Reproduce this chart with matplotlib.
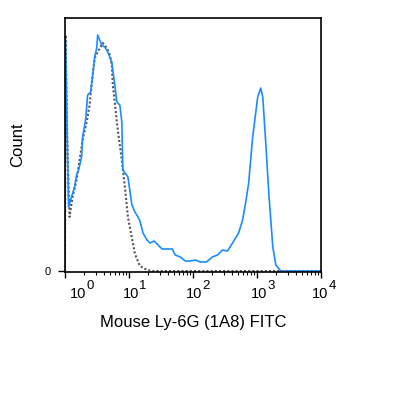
import numpy as np
import matplotlib
matplotlib.use('Agg')
import matplotlib.pyplot as plt
import matplotlib.transforms as mtransforms
import matplotlib.ticker as ticker

plt.rcParams['font.family'] = ['Liberation Sans', 'DejaVu Sans']

# Ly-6G (1A8) FITC stained sample, log10 intensity vs count
stain_log = [0.0, 0.008, 0.039, 0.055, 0.102, 0.149, 0.181, 0.212, 0.259, 0.275, 0.322,
             0.354, 0.401, 0.432, 0.464, 0.495, 0.511, 0.542, 0.574, 0.621, 0.668,
             0.731, 0.778, 0.810, 0.857, 0.888, 0.904, 0.983, 1.046, 1.093, 1.140,
             1.171, 1.219, 1.281, 1.329, 1.392, 1.454, 1.517, 1.596, 1.675, 1.722,
             1.800, 1.879, 1.958, 2.036, 2.115, 2.209, 2.303, 2.382, 2.461, 2.539,
             2.618, 2.712, 2.775, 2.822, 2.870, 2.901, 2.932, 2.980, 3.011, 3.058,
             3.090, 3.137, 3.184, 3.247, 3.294, 3.373, 4.0]
stain_count = [0, 231, 121, 64, 74, 84, 96, 101, 114, 134, 151,
               176, 179, 196, 214, 223, 236, 231, 226, 224, 219,
               209, 186, 169, 166, 149, 101, 94, 66, 59, 54,
               50, 38, 31, 28, 30, 26, 22, 22, 22, 16,
               14, 10, 10, 11, 9, 9, 14, 16, 21, 20,
               28, 38, 51, 68, 88, 111, 134, 158, 174, 183,
               174, 128, 78, 24, 6, 0, 0]

# isotype / unstained control
ctrl_log = [0.0, 0.008, 0.039, 0.071, 0.118, 0.181, 0.228, 0.275, 0.338, 0.385,
            0.432, 0.464, 0.511, 0.574, 0.590, 0.653, 0.700, 0.731, 0.747, 0.778,
            0.810, 0.825, 0.888, 0.936, 0.983, 1.046, 1.093, 1.171, 1.281, 1.376, 4.0]
ctrl_count = [0, 236, 121, 54, 74, 91, 111, 131, 149, 166,
              196, 213, 219, 226, 228, 223, 216, 206, 186, 169,
              149, 141, 111, 84, 54, 33, 17, 5, 1, 0, 0]

decades = [0, 1, 2, 3, 4]
label_shift = [13, 2, 1.5, 2, -0.5]   # px, horizontal nudge of each decade label

fig = plt.figure(figsize=(4.15, 3.95), dpi=100)
ax = fig.add_axes([65/415, 1-272/395, 256/415, 254/395])

ax.plot(10**np.array(ctrl_log), ctrl_count, color='#555555', lw=1.5,
        linestyle=(0, (1, 1)))
ax.plot(10**np.array(stain_log), stain_count, color='#1a8cff', lw=1.2)

ax.set_xscale('log')
ax.set_xlim(1, 1e4)
ax.set_ylim(-1, 253)

for s in ax.spines.values():
    s.set_linewidth(1.2)
    s.set_color('black')

ax.xaxis.set_major_locator(ticker.FixedLocator([10**d for d in decades]))
ax.xaxis.set_minor_locator(ticker.LogLocator(base=10, subs=np.arange(2, 10)))
ax.xaxis.set_major_formatter(ticker.NullFormatter())
ax.xaxis.set_minor_formatter(ticker.NullFormatter())
ax.tick_params(axis='x', which='major', direction='out', length=4.5, width=1)
ax.tick_params(axis='x', which='minor', direction='out', length=2.5, width=0.8)

ax.set_yticks([0])
ax.set_yticklabels(['0'], fontsize=8)
ax.tick_params(axis='y', direction='out', length=5, width=1, pad=5)

trans = ax.get_xaxis_transform()
for d, dx in zip(decades, label_shift):
    off = mtransforms.ScaledTranslation(dx/100, -26/100, fig.dpi_scale_trans)
    ax.text(10**d, 0, '10', transform=trans + off, ha='center', va='baseline',
            fontsize=10.5, clip_on=False)
    off2 = mtransforms.ScaledTranslation((dx+8)/100, -17/100, fig.dpi_scale_trans)
    ax.text(10**d, 0, str(d), transform=trans + off2, ha='left', va='baseline',
            fontsize=9.5, clip_on=False)

fig.text(193/415, 1-323/395, 'Mouse Ly-6G (1A8) FITC', ha='center', va='center',
         fontsize=12)
fig.text(18/415, 1-145/395, 'Count', ha='center', va='center', rotation=90,
         fontsize=12)

fig.savefig('out.png', dpi=100)
